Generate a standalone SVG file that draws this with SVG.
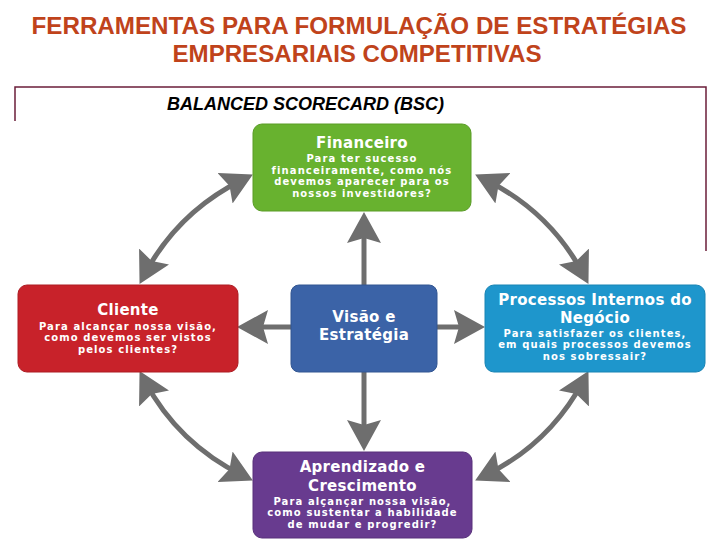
<svg xmlns="http://www.w3.org/2000/svg" width="720" height="540" viewBox="0 0 720 540">
<style>
.title{font-family:"Liberation Sans",Arial,sans-serif;font-size:24px;font-weight:bold;fill:#c0431b;text-anchor:middle}
.sub{font-family:"Liberation Sans",Arial,sans-serif;font-size:18px;font-weight:bold;font-style:italic;fill:#000}
.h{font-family:"DejaVu Sans",Verdana,sans-serif;font-size:15px;font-weight:bold;fill:#fff;text-anchor:middle;letter-spacing:0.3px}
.b{font-family:"DejaVu Sans",Verdana,sans-serif;font-size:10px;font-weight:bold;fill:#fff;text-anchor:middle;letter-spacing:1.1px}
.conn{fill:none;stroke:#6e6e6e;stroke-width:5;marker-end:url(#ah)}
.both{marker-start:url(#ah)}
</style>
<defs>
<marker id="ah" markerUnits="userSpaceOnUse" markerWidth="32" markerHeight="34" viewBox="0 0 32 34" refX="20" refY="17" orient="auto-start-reverse">
<path d="M0,0 L31,17 L0,34 L5,17 z" fill="#6e6e6e"/>
</marker>
</defs>
<rect width="720" height="540" fill="#fff"/>
<text class="title" x="359" y="33.5" textLength="655" lengthAdjust="spacingAndGlyphs">FERRAMENTAS PARA FORMULAÇÃO DE ESTRATÉGIAS</text>
<text class="title" x="357" y="62" textLength="369" lengthAdjust="spacingAndGlyphs">EMPRESARIAIS COMPETITIVAS</text>
<polyline points="15,121 15,87 706,87 706,251" fill="none" stroke="#6b1e3a" stroke-width="1.5"/>
<text class="sub" x="167" y="110">BALANCED SCORECARD (BSC)</text>

<g id="connectors">
<path class="conn" d="M364,285 L364,223"/>
<path class="conn" d="M364,372 L364,440"/>
<path class="conn" d="M291,327 L248,327"/>
<path class="conn" d="M437,327 L474,327"/>
<path class="conn both" d="M243,179.4 Q178,211.5 144.7,274.2"/>
<path class="conn both" d="M485,179.4 Q550,211.5 583.3,274.2"/>
<path class="conn both" d="M243,475.6 Q178,443.5 144.7,380.8"/>
<path class="conn both" d="M485,475.6 Q550,443.5 583.3,380.8"/>
</g>

<g id="financeiro">
<rect x="253" y="124" width="218" height="87" rx="9" fill="#68b22f" stroke="#5a9c27"/>
<text class="h" x="362" y="148">Financeiro</text>
<text class="b" x="362" y="162">Para ter sucesso</text>
<text class="b" x="362" y="173.5">financeiramente, como nós</text>
<text class="b" x="362" y="185">devemos aparecer para os</text>
<text class="b" x="362" y="196.5">nossos investidores?</text>
</g>

<g id="cliente">
<rect x="18" y="285" width="220" height="87" rx="9" fill="#c8222a" stroke="#ad1c23"/>
<text class="h" x="128" y="315">Cliente</text>
<text class="b" x="128" y="329.5">Para alcançar nossa visão,</text>
<text class="b" x="128" y="341">como devemos ser vistos</text>
<text class="b" x="128" y="352.5">pelos clientes?</text>
</g>

<g id="visao">
<rect x="291" y="285" width="146" height="87" rx="8" fill="#3b63a7" stroke="#325692"/>
<text class="h" x="364" y="322">Visão e</text>
<text class="h" x="364" y="340">Estratégia</text>
</g>

<g id="processos">
<rect x="485" y="285" width="220" height="87" rx="9" fill="#1e96cc" stroke="#1984b4"/>
<text class="h" x="595" y="305">Processos Internos do</text>
<text class="h" x="595" y="323">Negócio</text>
<text class="b" x="595" y="336.5">Para satisfazer os clientes,</text>
<text class="b" x="595" y="348">em quais processos devemos</text>
<text class="b" x="595" y="359.5">nos sobressair?</text>
</g>

<g id="aprendizado">
<rect x="253" y="452" width="219" height="86" rx="9" fill="#683b8f" stroke="#58317b"/>
<text class="h" x="362.5" y="472">Aprendizado e</text>
<text class="h" x="362.5" y="491">Crescimento</text>
<text class="b" x="362.5" y="504.5">Para alçançar nossa visão,</text>
<text class="b" x="362.5" y="516">como sustentar a habilidade</text>
<text class="b" x="362.5" y="527.5">de mudar e progredir?</text>
</g>
</svg>
